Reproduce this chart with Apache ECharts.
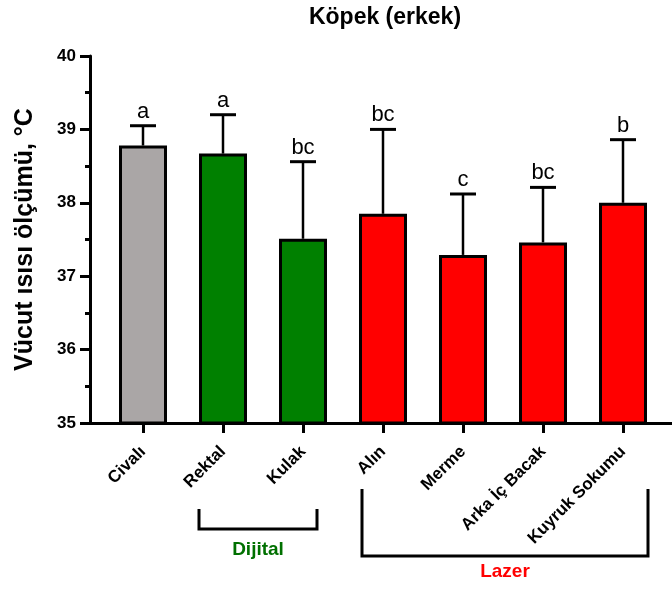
<!DOCTYPE html>
<html>
<head>
<meta charset="utf-8">
<script src="https://cdn.jsdelivr.net/npm/echarts@6/dist/echarts.min.js"></script>
<style>html,body{margin:0;padding:0;background:#fff;}#c{width:672px;height:590px;}</style>
</head>
<body>
<div id="c"></div>
<script>
const categories = ['Civalı', 'Rektal', 'Kulak', 'Alın', 'Merme', 'Arka İç Bacak', 'Kuyruk Sokumu'];
const means = [38.78, 38.67, 37.51, 37.85, 37.29, 37.46, 38.00];
const sd = [0.27, 0.53, 1.05, 1.15, 0.83, 0.75, 0.86];
const letters = ['a', 'a', 'bc', 'bc', 'c', 'bc', 'b'];
const barColors = ['#aaa6a6', '#008000', '#008000', '#ff0000', '#ff0000', '#ff0000', '#ff0000'];
const yTicks = { min: 35, max: 40, interval: 1 };
const groups = [
  { name: 'Dijital', color: '#007000', from: 1, to: 2, padL: 24, padR: 14, top: 509, bottom: 529, textY: 550 },
  { name: 'Lazer', color: '#ff0000', from: 3, to: 6, padL: 21, padR: 25, top: 489, bottom: 556, textY: 572 }
];

const FONT = '"Liberation Sans", Arial, Helvetica, sans-serif';
const chart = echarts.init(document.getElementById('c'), null, { renderer: 'canvas' });

const option = {
  animation: false,
  backgroundColor: '#fff',
  grid: [
    { left: 103, width: 560, top: 56, height: 367, outerBoundsMode: 'none', containLabel: false },
    { left: 90, right: 0, top: 56, height: 367, outerBoundsMode: 'none', containLabel: false }
  ],
  xAxis: [
    {
      type: 'category', data: categories, gridIndex: 0,
      axisLine: { show: false },
      axisTick: { show: true, alignWithLabel: true, length: 10, lineStyle: { width: 3, color: '#000' } },
      axisLabel: { rotate: 45, margin: 26, color: '#000', fontFamily: FONT, fontWeight: 'bold', fontSize: 17, interval: 0 }
    },
    {
      type: 'value', gridIndex: 1, min: 0, max: 1,
      axisLine: { show: true, onZero: false, lineStyle: { width: 3, color: '#000' } },
      axisTick: { show: false }, axisLabel: { show: false }, splitLine: { show: false }
    }
  ],
  yAxis: [
    {
      type: 'value', gridIndex: 0, min: yTicks.min, max: yTicks.max, interval: yTicks.interval,
      offset: 13,
      name: 'Vücut ısısı ölçümü, °C', nameLocation: 'middle', nameGap: 52, nameRotate: 90,
      nameTextStyle: { color: '#000', fontFamily: FONT, fontWeight: 'bold', fontSize: 25 },
      axisLine: { show: true, lineStyle: { width: 3, color: '#000' } },
      axisTick: { show: true, length: 10, lineStyle: { width: 3, color: '#000' } },
      minorTick: { show: true, splitNumber: 2, length: 5, lineStyle: { width: 3, color: '#000' } },
      axisLabel: { margin: 14, color: '#000', fontFamily: FONT, fontWeight: 'bold', fontSize: 17 },
      splitLine: { show: false }
    },
    {
      type: 'value', gridIndex: 1, min: yTicks.min, max: yTicks.max, show: false
    }
  ],
  series: [
    {
      type: 'bar', xAxisIndex: 0, yAxisIndex: 0, barWidth: 48,
      data: means.map((v, i) => ({ value: v, itemStyle: { color: barColors[i] } })),
      itemStyle: { borderColor: '#000', borderWidth: 3 },
      z: 2
    },
    {
      type: 'custom', xAxisIndex: 0, yAxisIndex: 0, z: 3,
      data: means.map((v, i) => [i, v, v + sd[i]]),
      renderItem: function (params, api) {
        const i = api.value(0);
        const base = api.coord([i, api.value(1)]);
        const top = api.coord([i, api.value(2)]);
        const capHalf = 13;
        return {
          type: 'group',
          children: [
            { type: 'line', shape: { x1: base[0], y1: base[1], x2: top[0], y2: top[1] }, style: { stroke: '#000', lineWidth: 2.5 } },
            { type: 'line', shape: { x1: top[0] - capHalf, y1: top[1], x2: top[0] + capHalf, y2: top[1] }, style: { stroke: '#000', lineWidth: 3 } },
            { type: 'text', style: { x: top[0], y: top[1] - 3, text: letters[params.dataIndex], fill: '#000', font: '22px ' + FONT, textAlign: 'center', textVerticalAlign: 'bottom' } }
          ]
        };
      }
    }
  ]
};
chart.setOption(option);

// Title and group brackets placed relative to the category axis
const graphics = [];
const c0 = chart.convertToPixel({ xAxisIndex: 0 }, 0);
const c6 = chart.convertToPixel({ xAxisIndex: 0 }, categories.length - 1);
graphics.push({
  type: 'text', x: (c0 + c6) / 2 + 2, y: 18,
  style: { text: 'Köpek (erkek)', fill: '#000', font: 'bold 23px ' + FONT, textAlign: 'center', textVerticalAlign: 'middle' }
});
groups.forEach(g => {
  const xl = chart.convertToPixel({ xAxisIndex: 0 }, g.from) - g.padL;
  const xr = chart.convertToPixel({ xAxisIndex: 0 }, g.to) + g.padR;
  graphics.push({
    type: 'polyline',
    shape: { points: [[xl, g.top], [xl, g.bottom], [xr, g.bottom], [xr, g.top]] },
    style: { stroke: '#000', lineWidth: 3, fill: null }
  });
  graphics.push({
    type: 'text', x: (xl + xr) / 2, y: g.textY,
    style: { text: g.name, fill: g.color, font: 'bold 19px ' + FONT, textAlign: 'center', textVerticalAlign: 'middle' }
  });
});
chart.setOption({ graphic: graphics });
</script>
</body>
</html>
